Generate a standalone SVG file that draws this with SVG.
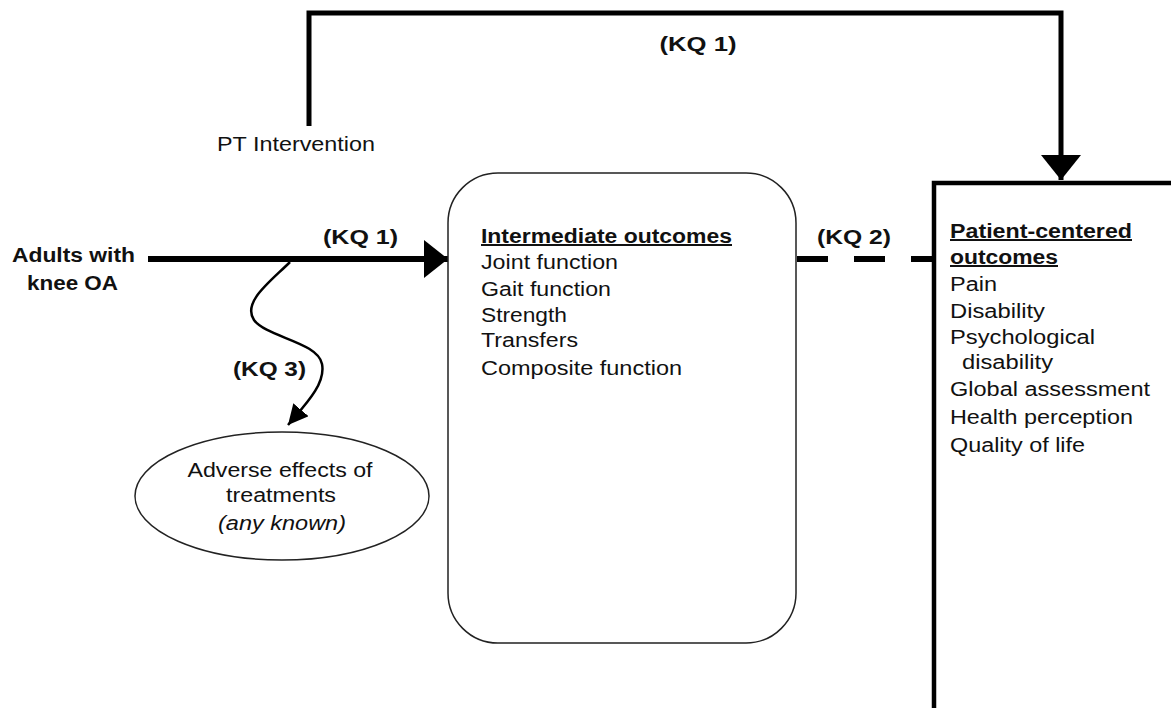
<svg xmlns="http://www.w3.org/2000/svg" width="1171" height="708" viewBox="0 0 1171 708">
<style>
text{font-family:"Liberation Sans",Arial,sans-serif;fill:#111;}
.b{font-weight:bold;font-size:20px;}
.r{font-size:20px;}
.u{text-decoration:underline;}
.i{font-style:italic;}
.thick{fill:none;stroke:#000;stroke-width:5;}
</style>
<defs>
<marker id="ahR" markerUnits="userSpaceOnUse" markerWidth="24" markerHeight="38" refX="24" refY="19" orient="auto" viewBox="0 0 24 38"><path d="M0,0 L24,19 L0,38 z" fill="#000"/></marker>
<marker id="ahD" markerUnits="userSpaceOnUse" markerWidth="25" markerHeight="40" refX="25" refY="20" orient="auto" viewBox="0 0 25 40"><path d="M0,0 L25,20 L0,40 z" fill="#000"/></marker>
<marker id="ahS" markerUnits="userSpaceOnUse" markerWidth="20" markerHeight="20" refX="20" refY="10" orient="auto" viewBox="0 0 20 20"><path d="M0,0 L20,10 L0,20 z" fill="#000"/></marker>
</defs>

<g id="connectors">
<path d="M309,126 L309,13 L1061,13 L1061,180" class="thick" stroke-linejoin="miter" marker-end="url(#ahD)"/>
<path d="M148,259 L448,259" fill="none" stroke="#000" stroke-width="6" marker-end="url(#ahR)"/>
<path d="M797,259 L933,259" fill="none" stroke="#000" stroke-width="6" stroke-dasharray="31,26"/>
<path d="M290,262 C270,282 242,302 254,320 C266,337 318,342 322,364 C326,384 305,405 288,425" fill="none" stroke="#000" stroke-width="2.5" marker-end="url(#ahS)"/>
<text class="b" x="698" y="51" text-anchor="middle" textLength="77" lengthAdjust="spacingAndGlyphs">(KQ 1)</text>
<text class="b" x="323" y="244" textLength="75" lengthAdjust="spacingAndGlyphs">(KQ 1)</text>
<text class="b" x="817" y="244" textLength="74" lengthAdjust="spacingAndGlyphs">(KQ 2)</text>
<text class="b" x="233" y="376" textLength="73" lengthAdjust="spacingAndGlyphs">(KQ 3)</text>
</g>

<g id="adults">
<text class="b" x="12" y="262" textLength="123" lengthAdjust="spacingAndGlyphs">Adults  with</text>
<text class="b" x="27" y="290" textLength="91" lengthAdjust="spacingAndGlyphs">knee OA</text>
</g>

<g id="pt-intervention">
<text class="r" x="217" y="151" textLength="158" lengthAdjust="spacingAndGlyphs">PT Intervention</text>
</g>

<g id="intermediate">
<rect x="448" y="173" width="348" height="470" rx="50" ry="50" fill="#fff" stroke="#222" stroke-width="1.5"/>
<text class="b u" x="481" y="243" textLength="251" lengthAdjust="spacingAndGlyphs">Intermediate outcomes</text>
<text class="r" x="481" y="269" textLength="137" lengthAdjust="spacingAndGlyphs">Joint function</text>
<text class="r" x="481" y="296" textLength="130" lengthAdjust="spacingAndGlyphs">Gait function</text>
<text class="r" x="481" y="322" textLength="86" lengthAdjust="spacingAndGlyphs">Strength</text>
<text class="r" x="481" y="347" textLength="97" lengthAdjust="spacingAndGlyphs">Transfers</text>
<text class="r" x="481" y="375" textLength="201" lengthAdjust="spacingAndGlyphs">Composite function</text>
</g>

<g id="patient-centered">
<path d="M934,712 L934,183 L1175,183" fill="none" stroke="#000" stroke-width="4.5"/>
<text class="b u" x="950" y="238" textLength="182" lengthAdjust="spacingAndGlyphs">Patient-centered</text>
<text class="b u" x="950" y="264" textLength="108" lengthAdjust="spacingAndGlyphs">outcomes</text>
<text class="r" x="950" y="291" textLength="47" lengthAdjust="spacingAndGlyphs">Pain</text>
<text class="r" x="950" y="318" textLength="95" lengthAdjust="spacingAndGlyphs">Disability</text>
<text class="r" x="950" y="344" textLength="145" lengthAdjust="spacingAndGlyphs">Psychological</text>
<text class="r" x="962" y="369" textLength="91" lengthAdjust="spacingAndGlyphs">disability</text>
<text class="r" x="950" y="396" textLength="200" lengthAdjust="spacingAndGlyphs">Global assessment</text>
<text class="r" x="950" y="424" textLength="183" lengthAdjust="spacingAndGlyphs">Health perception</text>
<text class="r" x="950" y="452" textLength="135" lengthAdjust="spacingAndGlyphs">Quality of life</text>
</g>

<g id="adverse-effects">
<ellipse cx="282" cy="496" rx="147" ry="64" fill="#fff" stroke="#222" stroke-width="1.5"/>
<text class="r" x="280" y="477" text-anchor="middle" textLength="185" lengthAdjust="spacingAndGlyphs">Adverse effects of</text>
<text class="r" x="281" y="502" text-anchor="middle" textLength="110" lengthAdjust="spacingAndGlyphs">treatments</text>
<text class="r i" x="282" y="530" text-anchor="middle" textLength="128" lengthAdjust="spacingAndGlyphs">(any known)</text>
</g>
</svg>
